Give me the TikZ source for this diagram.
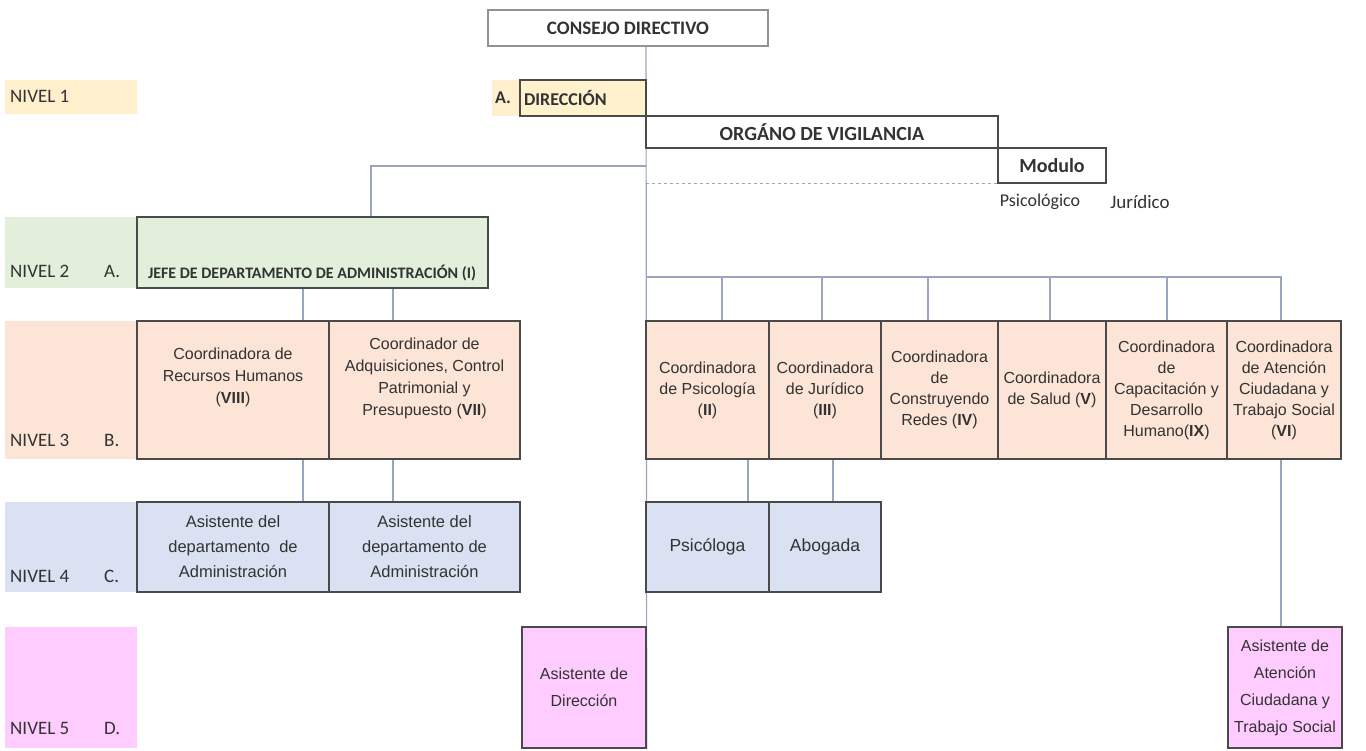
\documentclass[tikz,border=0pt]{standalone}
\usepackage{fontspec}
\setmainfont{Liberation Sans}
\newfontfamily\headfont{Carlito}
\usetikzlibrary{calc,backgrounds}

\definecolor{lineclr}{HTML}{4A4A4A}
\definecolor{linkclr}{HTML}{9AA6BF}
\definecolor{txtclr}{HTML}{333333}
\definecolor{niv1}{HTML}{FFEFCC}
\definecolor{dirfill}{HTML}{FFF2CC}
\definecolor{niv2}{HTML}{E2EFDA}
\definecolor{niv3}{HTML}{FCE4D6}
\definecolor{niv4}{HTML}{D9E1F2}
\definecolor{niv5}{HTML}{FFCCFF}

\tikzset{
	orgbox/.style={draw=lineclr, line width=1.5pt, text=txtclr, align=center, inner xsep=0pt, inner ysep=2pt},
	wh/.style 2 args={minimum width=#1pt, minimum height=#2pt},
	lvlbox/.style={fill=#1, inner sep=0pt},
	lvltext/.style={text=txtclr, font=\headfont\fontsize{19}{20}\selectfont, inner sep=0pt, anchor=base west},
	headtext/.style={font=\headfont\bfseries\fontsize{#1}{22}\selectfont},
	link/.style={draw=linkclr, line width=1.2pt},
	bodyA/.style={font=\fontsize{16}{21}\selectfont},
	bodyB/.style={font=\fontsize{16}{22}\selectfont},
	bodyC/.style={font=\fontsize{16.5}{25}\selectfont},
	bodyD/.style={font=\fontsize{16}{27}\selectfont},
}

\begin{document}
\begin{tikzpicture}[x=1pt, y=-1pt]
	\useasboundingbox (0,0) rectangle (1366,751);
	\coordinate (trunk) at (646,0);
	\coordinate (jbus) at (371,166);
	\coordinate (bus) at (0,277);
	\coordinate (dA) at (303,0);
	\coordinate (dB) at (393,0);
	\coordinate (dC) at (748,0);
	\coordinate (dD) at (833,0);
	\coordinate (dE) at (1281,0);

	\node[orgbox, draw=gray!85, line width=1.2pt, wh={280}{36}, headtext=19] (consejo) at (628,28) {CONSEJO DIRECTIVO};

	\node[lvlbox=niv1, wh={132}{34}] (lvl1) at (71,97) {};
	\node[lvltext] (lvl1t) at (10,103) {NIVEL 1};
	\node[lvlbox=niv1, wh={28}{36}] (dirA) at (506,98) {};
	\node[lvltext, font=\headfont\bfseries\fontsize{18}{20}\selectfont] (dirAt) at (495,104) {A.};

	\node[lvlbox=niv2, wh={132}{71}] (lvl2) at (71,252.5) {};
	\node[lvltext] (lvl2t) at (10,278) {NIVEL 2};
	\node[lvltext] (lvl2l) at (104,278) {A.};
	\node[lvlbox=niv3, wh={132}{138}] (lvl3) at (71,390) {};
	\node[lvltext] (lvl3t) at (10,446) {NIVEL 3};
	\node[lvltext] (lvl3l) at (104,446) {B.};
	\node[lvlbox=niv4, wh={132}{90}] (lvl4) at (71,547) {};
	\node[lvltext] (lvl4t) at (10,582) {NIVEL 4};
	\node[lvltext] (lvl4l) at (104,582) {C.};
	\node[lvlbox=niv5, wh={132}{121}] (lvl5) at (71,687.5) {};
	\node[lvltext] (lvl5t) at (10,734) {NIVEL 5};
	\node[lvltext] (lvl5l) at (104,734) {D.};

	\node[orgbox, fill=dirfill, wh={126}{36}, text width=118pt, align=left, inner xsep=4pt, headtext=18] (direccion) at (583,98) {DIRECCIÓN};
	\node[orgbox, fill=white, wh={352}{32}, headtext=20] (organo) at (822,132) {ORGÁNO DE VIGILANCIA};
	\node[orgbox, fill=white, wh={108}{35}, headtext=20] (modulo) at (1052,165.5) {Modulo};
	\node[text=txtclr, font=\headfont\fontsize{18}{20}\selectfont] (psicmod) at (1040,202) {Psicológico};
	\node[text=txtclr, font=\headfont\fontsize{19}{20}\selectfont] (jurmod) at (1140,202) {Jurídico};

	\node[orgbox, fill=niv2, wh={351}{71}] (jefe) at (312.5,252.5) {};
	\node[text=txtclr, headtext=16] (jefet) at (312,273) {JEFE DE DEPARTAMENTO DE ADMINISTRACIÓN (I)};

	\node[orgbox, fill=niv3, wh={192}{138}] (rrhh) at (233,390) {};
	\node[text=txtclr, align=center, bodyB] (rrhht) at ([yshift=13pt]rrhh.center) {Coordinadora de\\Recursos Humanos\\(\textbf{VIII})};
	\node[orgbox, fill=niv3, wh={191}{138}] (adq) at (424.5,390) {};
	\node[text=txtclr, align=center, bodyB] (adqt) at ([yshift=12pt]adq.center) {Coordinador de\\Adquisiciones, Control\\Patrimonial y\\Presupuesto (\textbf{VII})};

	\foreach \n/\x/\w/\t in {psic/707.5/123/{Coordinadora\\de Psicología\\(\textbf{II})},
		jur/825/112/{Coordinadora\\de Jurídico\\(\textbf{III})},
		redes/939.5/117/{Coordinadora\\de\\Construyendo\\Redes (\textbf{IV})},
		salud/1052/108/{Coordinadora\\de Salud (\textbf{V})},
		capac/1166.5/121/{Coordinadora\\de\\Capacitación y\\Desarrollo\\Humano(\textbf{IX})},
		atenc/1284/114/{Coordinadora\\de Atención\\Ciudadana y\\Trabajo Social\\(\textbf{VI})}}
		\node[orgbox, fill=niv3, wh={\w}{138}, bodyA] (\n) at (\x,390) {\t};

	\node[orgbox, fill=niv4, wh={192}{90}, bodyC] (asisA) at (233,547) {Asistente del\\departamento~~de\\Administración};
	\node[orgbox, fill=niv4, wh={191}{90}, bodyC] (asisB) at (424.5,547) {Asistente del\\departamento de\\Administración};
	\node[orgbox, fill=niv4, wh={123}{90}, font=\fontsize{17.5}{21}\selectfont] (psicologa) at (707.5,547) {Psicóloga};
	\node[orgbox, fill=niv4, wh={112}{90}, font=\fontsize{17.5}{21}\selectfont] (abogada) at (825,547) {Abogada};

	\node[orgbox, fill=niv5, wh={124}{121}, bodyD] (asisdir) at (584,687.5) {Asistente de\\Dirección};
	\node[orgbox, fill=niv5, wh={114}{121}, bodyD] (asisat) at (1285,687.5) {Asistente de\\Atención\\Ciudadana y\\Trabajo Social};

	\begin{pgfonlayer}{background}
		\fill[white] (0,0) rectangle (1366,751);
		\draw[link] (consejo.south -| trunk) -- (asisdir.south east);
		\draw[link] (jbus -| trunk) -| (jefe.north -| jbus);
		\draw[link, dashed, line width=1pt] (modulo.south west -| trunk) -- (modulo.south west);
		\foreach \n/\d in {psic/14.5, jur/-3, redes/-11.5, salud/-2, capac/0.5, atenc/-3}
			\draw[link] ([xshift=\d pt]\n.north) |- (trunk |- bus);
		\draw[link] (jefe.south -| dA) -- (rrhh.north -| dA);
		\draw[link] (jefe.south -| dB) -- (adq.north -| dB);
		\draw[link] (rrhh.south -| dA) -- (asisA.north -| dA);
		\draw[link] (adq.south -| dB) -- (asisB.north -| dB);
		\draw[link] (psic.south -| dC) -- (psicologa.north -| dC);
		\draw[link] (jur.south -| dD) -- (abogada.north -| dD);
		\draw[link] (atenc.south -| dE) -- (asisat.north -| dE);
	\end{pgfonlayer}
\end{tikzpicture}
\end{document}
